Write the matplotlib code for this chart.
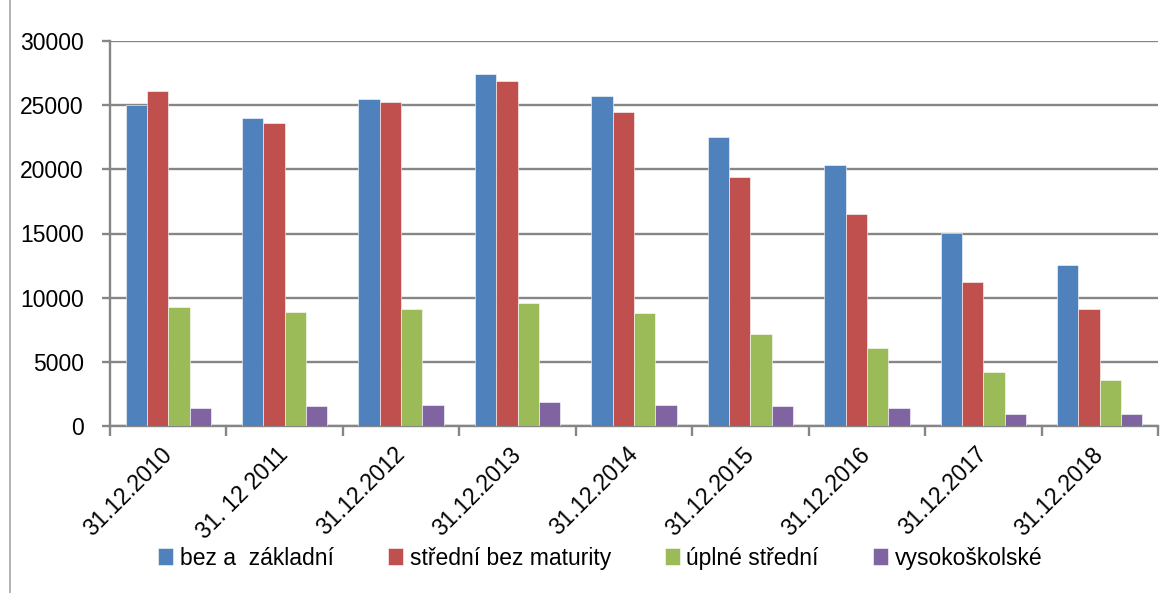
import numpy as np
import matplotlib
matplotlib.use("Agg")
import matplotlib.pyplot as plt
from matplotlib.lines import Line2D

plt.rcParams['font.family'] = ['Liberation Sans', 'DejaVu Sans']

dates = ["31.12.2010", "31. 12 2011", "31.12.2012", "31.12.2013", "31.12.2014",
         "31.12.2015", "31.12.2016", "31.12.2017", "31.12.2018"]
series_names = ["bez a  základní", "střední bez maturity", "úplné střední", "vysokoškolské"]
bez_zakladni = [25000, 24000, 25450, 27400, 25750, 22550, 20350, 15050, 12550]
stredni_bez_mat = [26100, 23600, 25250, 26850, 24500, 19400, 16550, 11200, 9150]
uplne_stredni = [9300, 8850, 9150, 9620, 8820, 7200, 6050, 4170, 3560]
vysokoskolske = [1430, 1540, 1600, 1900, 1650, 1520, 1430, 960, 920]
colors = ["#4F81BD", "#C0504D", "#9BBB59", "#8064A2"]

GRID = "#868686"

fig = plt.figure(figsize=(11.7, 5.93), dpi=100)
ax = fig.add_axes([110 / 1170, 1 - 426 / 593, (1158 - 110) / 1170, (426 - 41) / 593])

x = np.arange(len(dates))
w = 0.183
for i, (vals, name, c) in enumerate(zip(
        [bez_zakladni, stredni_bez_mat, uplne_stredni, vysokoskolske], series_names, colors)):
    ax.bar(x + (i - 1.5) * w, vals, width=w, color=c, label=name,
           edgecolor="white", linewidth=0.4, zorder=3)

ax.set_xlim(-0.5, len(dates) - 0.5)
ax.set_ylim(0, 30000)
ax.set_yticks(np.arange(0, 30001, 5000))
ax.yaxis.grid(True, color=GRID, linewidth=1.7, zorder=0)
ax.set_axisbelow(True)

for s in ["top", "right"]:
    ax.spines[s].set_visible(False)
for s in ["left", "bottom"]:
    ax.spines[s].set_color(GRID)
    ax.spines[s].set_linewidth(1.7)

ax.tick_params(axis="y", length=6, width=1.7, color=GRID, pad=13, labelsize=16.5)
ax.set_xticks(x)
ax.set_xticklabels(dates, rotation=45, ha="right", va="center", rotation_mode="anchor",
                   fontsize=16.5)
ax.tick_params(axis="x", which="major", length=0, pad=18)
ax.set_xticks(np.arange(-0.5, len(dates)), minor=True)
ax.tick_params(axis="x", which="minor", length=7, width=1.7, color=GRID)

leg = fig.legend(loc="center", bbox_to_anchor=(0.513, 0.059), ncol=4, frameon=False,
                 fontsize=16.5, handlelength=0.65, handleheight=0.7, handletextpad=0.3,
                 columnspacing=2.35)

fig.add_artist(Line2D([10 / 1170, 10 / 1170], [0, 1], transform=fig.transFigure,
                      color="#A6A6A6", linewidth=1.2))

fig.savefig("out.png", dpi=100)
